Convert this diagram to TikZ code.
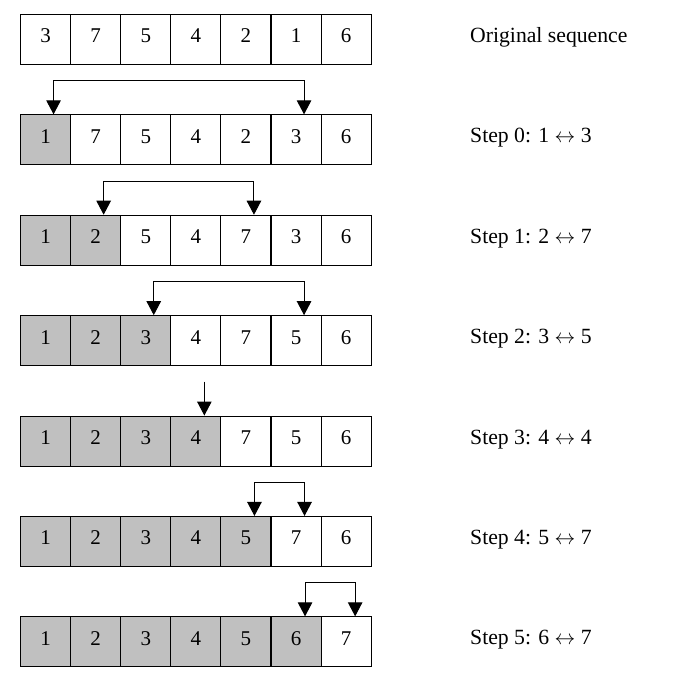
\documentclass[tikz,border=0pt]{standalone}
\usepackage{fontspec}
\setmainfont{Liberation Serif}
\usetikzlibrary{arrows.meta}
\definecolor{sortgray}{RGB}{192,192,192}
\begin{document}
\begin{tikzpicture}[x=1pt,y=-1pt]
    % Define styles for cells, labels and arrows
    \tikzstyle{cell} = [rectangle, minimum width=50.1pt, minimum height=50pt, inner sep=0pt, text height=14pt, text depth=7pt, draw=black, line width=1.1pt, font=\fontsize{21}{25}\selectfont]
    \tikzstyle{steplabel} = [anchor=base west, inner sep=0pt, font=\fontsize{21.7}{26}\selectfont]
    \tikzstyle{swaparrow} = [line width=1pt, -{Triangle[width=14.5pt,length=14pt]}]
    \tikzstyle{swapbracket} = [line width=1pt, {Triangle[width=14.5pt,length=14pt]}-{Triangle[width=14.5pt,length=14pt]}]
    \useasboundingbox (0,0) rectangle (689,684);
    % Nodes: one row of cells per step, grey cells are already sorted
    \foreach \row/\vals/\done/\txt in {
        0/{3,7,5,4,2,1,6}/0/{Original sequence},
        1/{1,7,5,4,2,3,6}/1/{Step 0: 1 $\leftrightarrow$ 3},
        2/{1,2,5,4,7,3,6}/2/{Step 1: 2 $\leftrightarrow$ 7},
        3/{1,2,3,4,7,5,6}/3/{Step 2: 3 $\leftrightarrow$ 5},
        4/{1,2,3,4,7,5,6}/4/{Step 3: 4 $\leftrightarrow$ 4},
        5/{1,2,3,4,5,7,6}/5/{Step 4: 5 $\leftrightarrow$ 7},
        6/{1,2,3,4,5,6,7}/6/{Step 5: 6 $\leftrightarrow$ 7}} {
        \foreach \v [count=\i from 0] in \vals {
            \ifnum\i<\done \def\cf{sortgray}\else \def\cf{white}\fi
            \node (r\row-\i) [cell, fill=\cf] at (45.55+50.1*\i, 39.5+100.4*\row) {\v};
        }
        \node (lab\row) [steplabel] at (470, 42.5+100.4*\row) {\txt};
    }
    % Arrows (swaps)
    \draw [swapbracket] ([xshift=8pt]r1-0.north) -- ++(0,-33.5) -| ([xshift=8pt]r1-5.north);
    \draw [swapbracket] ([xshift=8pt]r2-1.north) -- ++(0,-33.5) -| ([xshift=8pt]r2-4.north);
    \draw [swapbracket] ([xshift=8pt]r3-2.north) -- ++(0,-33.5) -| ([xshift=8pt]r3-5.north);
    \coordinate (top3) at ([shift={(8.5,-34)}]r4-3.north);
    \draw [swaparrow] (top3) -- ([xshift=8.5pt]r4-3.north);
    \draw [swapbracket] ([xshift=8.5pt]r5-4.north) -- ++(0,-33.5) -| ([xshift=8.5pt]r5-5.north);
    \draw [swapbracket] ([xshift=9pt]r6-5.north) -- ++(0,-33.5) -| ([xshift=9pt]r6-6.north);
\end{tikzpicture}
\end{document}
